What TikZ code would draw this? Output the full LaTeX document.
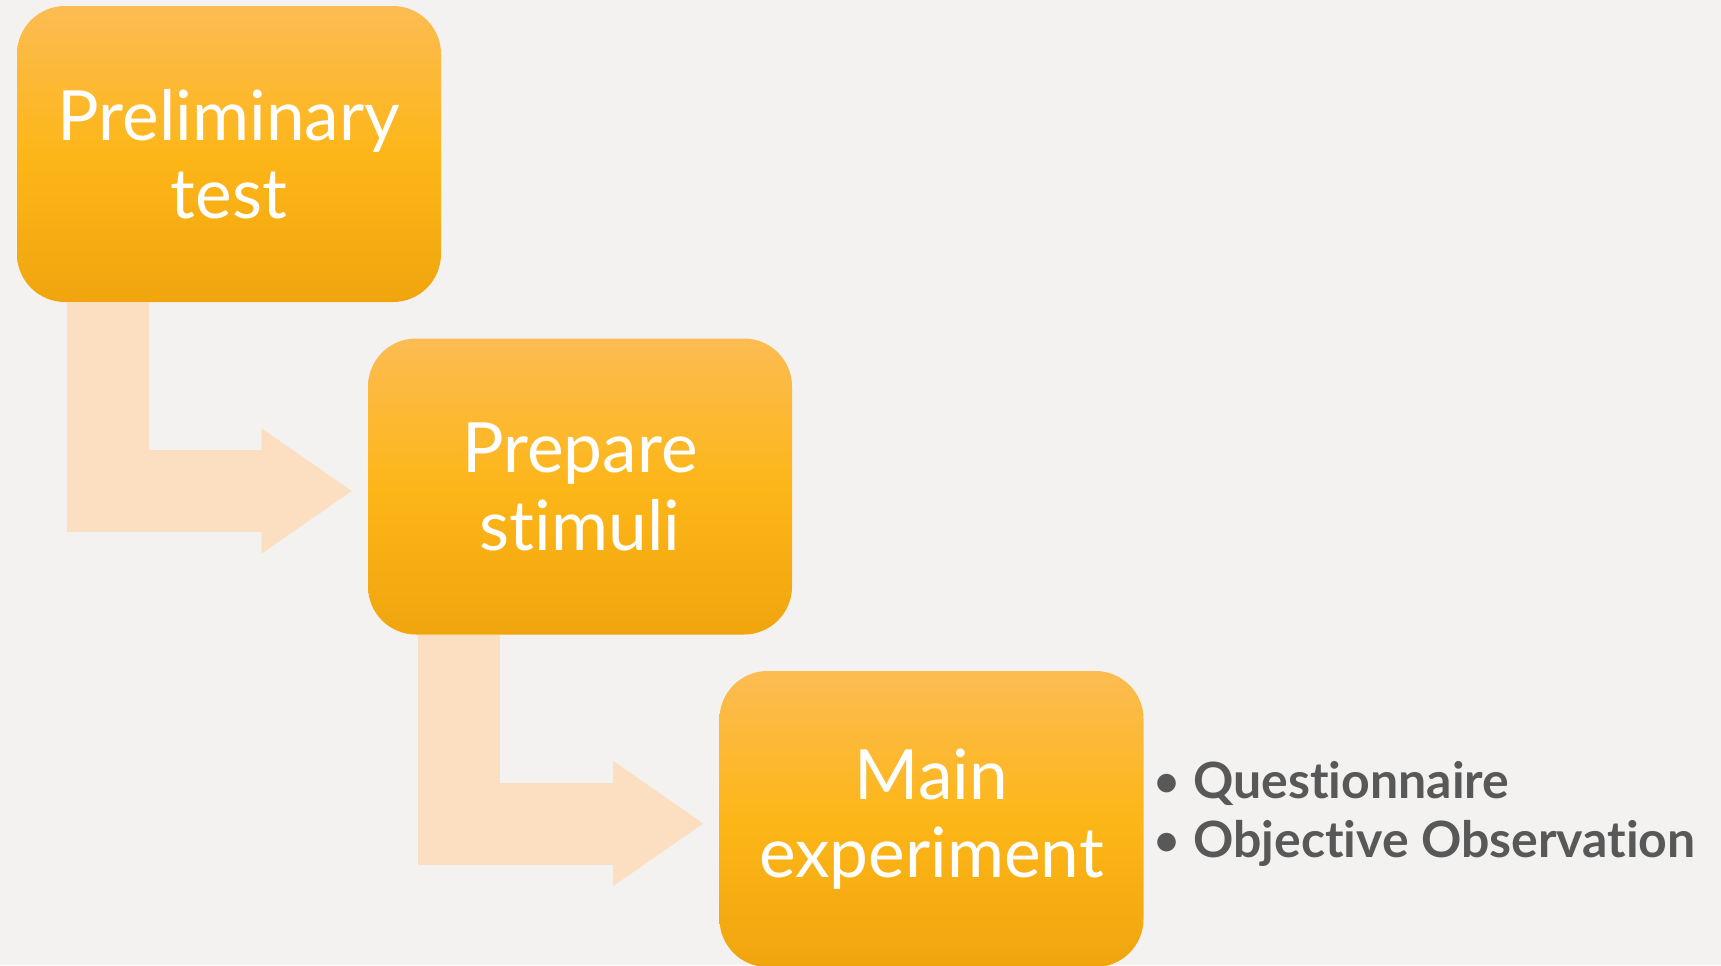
\documentclass[tikz,border=0pt]{standalone}
\usepackage{fontspec}
\setmainfont{Lato}[Ligatures={NoCommon,NoRare}]
\usetikzlibrary{arrows.meta}
\usetikzlibrary{calc}
\usetikzlibrary{positioning}

\definecolor{pagebg}{RGB}{243,242,240}
\definecolor{boxtop}{RGB}{252,188,82}
\definecolor{boxmid}{RGB}{253,182,24}
\definecolor{boxbot}{RGB}{240,165,14}
\definecolor{flowcol}{RGB}{252,222,192}
\definecolor{notecol}{RGB}{88,88,88}

\tikzset{
  stagebox/.style={rounded corners=36pt, minimum width=318pt, minimum height=222pt,
    inner sep=0pt, top color=boxtop, bottom color=boxbot, middle color=boxmid,
    text=white, align=center, font=\fontsize{52}{58.5}\selectfont},
  flow/.style={draw=flowcol, line width=61.5pt,
    -{Triangle[length=67.5pt, width=93.75pt, line width=0pt]}},
  note/.style={anchor=base west, text=notecol, font=\fontsize{37.5}{44}\selectfont\bfseries}
}

\begin{document}
\begin{tikzpicture}[x=0.75pt,y=0.75pt,yscale=-1,xscale=1]
\clip (0,0) rectangle (1721,965);
\fill[pagebg] (0,0) rectangle (1721,965);

%Rounded Rect
\node[stagebox] (prelim) at (229,154) {Preliminary\\test};
%Rounded Rect
\node[stagebox] (prep) at (580,486.5) {Prepare\\stimuli};
%Rounded Rect
\node[stagebox] (mainexp) at (931.5,819) {Main\\experiment};

%Bent Arrows
\draw[flow] ($(prelim.south)+(-121,0)$) |- ($(prep.west)+(-16,4.5)$);
\draw[flow] ($(prep.south)+(-121,0)$) |- ($(mainexp.west)+(-16,4.5)$);

% Text Node
\node[note] (quest) at (1148,798) {\makebox[30.5pt][l]{\mdseries\textbullet}Questionnaire};
% Text Node
\node[note] (observ) at (1148,857) {\makebox[30.5pt][l]{\mdseries\textbullet}Objective Observation};

\end{tikzpicture}
\end{document}
